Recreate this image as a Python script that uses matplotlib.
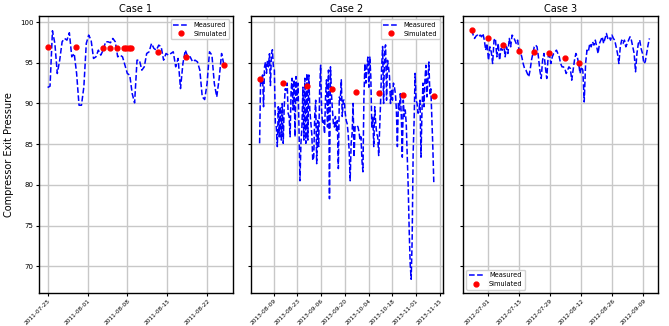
import matplotlib
matplotlib.use("Agg")
import matplotlib.pyplot as plt
import matplotlib.dates as mdates
import pandas as pd

# ---------------- data ----------------
titles = ["Case 1", "Case 2", "Case 3"]
y_label = "Compressor Exit Pressure"
y_ticks = [70, 75, 80, 85, 90, 95, 100]

case1_start, case1_end = "2011-07-25 00:00", "2011-08-24 22:00"
case1_measured = [91.96, 92.12, 98.93, 97.37, 93.68, 95.32, 97.58, 97.99, 97.78, 98.69,
                  95.73, 96.14, 93.68, 89.78, 89.78, 92.04, 97.37, 98.40, 97.78, 95.53,
                  95.73, 96.55, 95.94, 96.55, 97.58, 97.58, 97.46, 97.99, 97.58, 95.73,
                  95.94, 95.73, 94.71, 93.68, 93.48, 91.22, 90.07, 95.32, 95.32, 94.09,
                  94.50, 96.14, 96.35, 97.37, 96.76, 96.55, 97.17, 96.96, 95.32, 96.14,
                  95.94, 96.14, 96.35, 94.50, 95.53, 91.83, 94.91, 96.55, 95.73, 95.73,
                  95.12, 95.32, 95.12, 94.09, 90.81, 90.48, 92.45, 96.35, 95.94, 92.45,
                  90.81, 93.07, 96.14, 94.71]
case1_sim_dates = ["2011-07-25 00:00", "2011-07-29 22:00", "2011-08-03 17:00", "2011-08-04 22:00",
                   "2011-08-06 02:00", "2011-08-07 10:00", "2011-08-07 19:00", "2011-08-08 05:00",
                   "2011-08-08 14:00", "2011-08-13 10:00", "2011-08-18 07:00", "2011-08-24 22:00"]
case1_sim = [96.96, 96.92, 96.84, 96.84, 96.80, 96.80, 96.80, 96.80, 96.76, 96.35, 95.77, 94.75]
case1_ticks = ["2011-07-25", "2011-08-01", "2011-08-08", "2011-08-15", "2011-08-22"]

case2_start, case2_end = "2013-07-31 16:00", "2013-11-11 12:00"
case2_measured = [85.1, 92.9, 92.5, 93.5, 89.6, 94.5, 95.1, 93.7, 95.3, 94.5, 96.1, 92.2, 96.1,
                  96.6, 94.5, 94.1, 87.5, 87.1, 84.7, 89.6, 85.9, 89.6, 85.5, 90.0, 85.1, 89.6,
                  91.8, 91.6, 92.5, 88.8, 88.4, 85.9, 91.6, 93.1, 89.2, 92.9, 85.9, 93.3, 90.4,
                  92.5, 87.1, 80.5, 85.1, 87.1, 92.0, 85.5, 93.1, 85.1, 93.7, 85.5, 93.5, 89.2,
                  87.7, 86.3, 83.0, 83.4, 88.4, 90.4, 82.6, 87.9, 84.7, 91.6, 94.7, 89.2, 87.5,
                  87.9, 86.3, 90.8, 92.9, 87.1, 94.1, 78.3, 94.5, 91.2, 89.2, 87.5, 87.1, 88.4,
                  86.7, 87.9, 82.0, 90.8, 90.4, 92.9, 88.4, 90.4, 90.4, 88.8, 87.9, 87.5, 86.3,
                  84.2, 80.5, 85.1, 86.3, 90.0, 83.4, 87.1, 87.3, 87.3, 87.1, 86.5, 85.5, 85.9,
                  83.0, 81.6, 90.8, 94.9, 92.5, 94.5, 95.7, 92.0, 95.7, 93.3, 87.1, 88.4, 84.7,
                  89.6, 87.5, 86.3, 85.9, 83.6, 87.1, 90.4, 94.5, 97.0, 90.0, 96.6, 97.2, 90.4,
                  95.3, 94.5, 93.3, 90.0, 91.6, 90.4, 92.5, 92.0, 91.2, 89.2, 84.7, 90.0, 89.2,
                  91.2, 88.4, 83.4, 90.4, 88.4, 89.2, 87.5, 83.8, 79.7, 74.4, 70.3, 68.4, 73.2,
                  83.8, 87.9, 93.7, 90.4, 90.0, 88.8, 89.2, 90.4, 83.4, 89.2, 92.5, 89.6, 92.9,
                  94.7, 90.8, 92.9, 95.1, 91.2, 91.8, 88.4, 84.7, 80.3]
case2_sim_dates = ["2013-07-31 20:00", "2013-08-14 14:00", "2013-08-28 14:00", "2013-09-12 10:00",
                   "2013-09-26 10:00", "2013-10-10 05:00", "2013-10-24 05:00", "2013-11-11 17:00"]
case2_sim = [92.98, 92.57, 92.16, 91.75, 91.46, 91.26, 91.05, 90.89]
case2_ticks = ["2013-08-09", "2013-08-23", "2013-09-06", "2013-09-20", "2013-10-04",
               "2013-10-18", "2013-11-01", "2013-11-15"]

case3_start, case3_end = "2012-06-23 14:00", "2012-09-11 17:00"
case3_measured = [99.02, 98.40, 97.99, 98.28, 98.40, 98.19, 98.40, 98.19, 98.60, 97.78,
                  96.55, 97.37, 95.32, 96.96, 96.35, 94.91, 97.78, 97.99, 95.73, 97.37,
                  95.32, 96.76, 96.55, 97.37, 95.73, 96.96, 96.14, 97.99, 96.96, 98.40,
                  98.19, 97.78, 97.37, 97.78, 96.55, 96.35, 95.73, 94.91, 94.30, 94.09,
                  93.68, 93.27, 94.09, 95.32, 96.14, 96.96, 97.17, 96.96, 95.73, 94.09,
                  93.07, 95.32, 96.14, 94.50, 93.07, 95.73, 95.94, 94.91, 95.73, 96.14,
                  96.35, 96.55, 96.14, 95.73, 94.91, 94.50,
                  94.50, 94.30, 93.68, 94.09, 94.50, 94.30, 92.86, 94.09, 95.32, 96.14,
                  95.73, 94.91, 93.68, 94.50, 94.09, 90.19, 94.91, 96.55, 96.35, 97.37,
                  96.96, 97.58, 97.17, 97.78, 96.96, 96.14, 97.37, 97.78, 98.19, 97.37,
                  97.99, 98.60, 97.99, 98.19, 97.78, 98.40, 97.99, 97.78, 96.96, 96.14,
                  94.91, 96.96, 97.78, 97.37, 97.78, 96.96, 97.37, 97.78, 98.19, 97.78,
                  96.96, 96.14, 93.89, 96.14, 97.37, 97.78, 96.76, 96.14, 94.91, 95.12,
                  96.14, 97.17, 97.99]
case3_sim_dates = ["2012-06-23 15:00", "2012-06-30 20:00", "2012-07-07 14:00", "2012-07-14 17:00",
                   "2012-07-21 17:00", "2012-07-28 14:00", "2012-08-04 17:00", "2012-08-11 00:00"]
case3_sim = [99.02, 98.07, 97.13, 96.47, 96.31, 96.14, 95.61, 94.92]
case3_ticks = ["2012-07-01", "2012-07-15", "2012-07-29", "2012-08-12", "2012-08-26", "2012-09-09"]

legend_locs = ["upper right", "upper right", "lower left"]

cases = [
    (case1_start, case1_end, case1_measured, case1_sim_dates, case1_sim, case1_ticks),
    (case2_start, case2_end, case2_measured, case2_sim_dates, case2_sim, case2_ticks),
    (case3_start, case3_end, case3_measured, case3_sim_dates, case3_sim, case3_ticks),
]

# ---------------- plot ----------------
fig = plt.figure(figsize=(6.69, 3.26), dpi=100)
positions = [[0.058, 0.101, 0.290, 0.850],
             [0.375, 0.101, 0.287, 0.850],
             [0.692, 0.101, 0.292, 0.850]]

axes = []
for i, (pos, case) in enumerate(zip(positions, cases)):
    start, end, meas, sim_d, sim_v, ticks = case
    ax = fig.add_axes(pos, sharey=axes[0] if axes else None)
    axes.append(ax)
    t = pd.date_range(start, end, periods=len(meas))
    ax.plot(t, meas, color="blue", linestyle="--", linewidth=1.1, label="Measured")
    ax.plot(pd.to_datetime(sim_d), sim_v, "o", color="red", markersize=3.5,
            label="Simulated", zorder=3)
    ax.set_title(titles[i], fontsize=7, pad=3)
    ax.set_xticks(pd.to_datetime(ticks))
    ax.xaxis.set_major_formatter(mdates.DateFormatter("%Y-%m-%d"))
    ax.tick_params(axis="x", labelsize=4.2, rotation=45, length=2.5, pad=1.2)
    ax.tick_params(axis="y", labelsize=5, length=2.5, pad=1.5)
    for lbl in ax.get_xticklabels():
        lbl.set_ha("right")
        lbl.set_rotation_mode("anchor")
    ax.grid(True, color="#c8c8c8", linewidth=1.0)
    ax.set_axisbelow(True)
    for sp in ax.spines.values():
        sp.set_linewidth(1.0)
    ax.legend(loc=legend_locs[i], fontsize=4.8, handlelength=2.2,
              borderpad=0.4, labelspacing=0.4, framealpha=0.9)
    if i > 0:
        ax.tick_params(axis="y", labelleft=False)

axes[0].set_ylim(66.7, 100.75)
axes[0].set_yticks(y_ticks)
axes[0].set_ylabel(y_label, fontsize=7)

fig.savefig("out.png", dpi=100)
